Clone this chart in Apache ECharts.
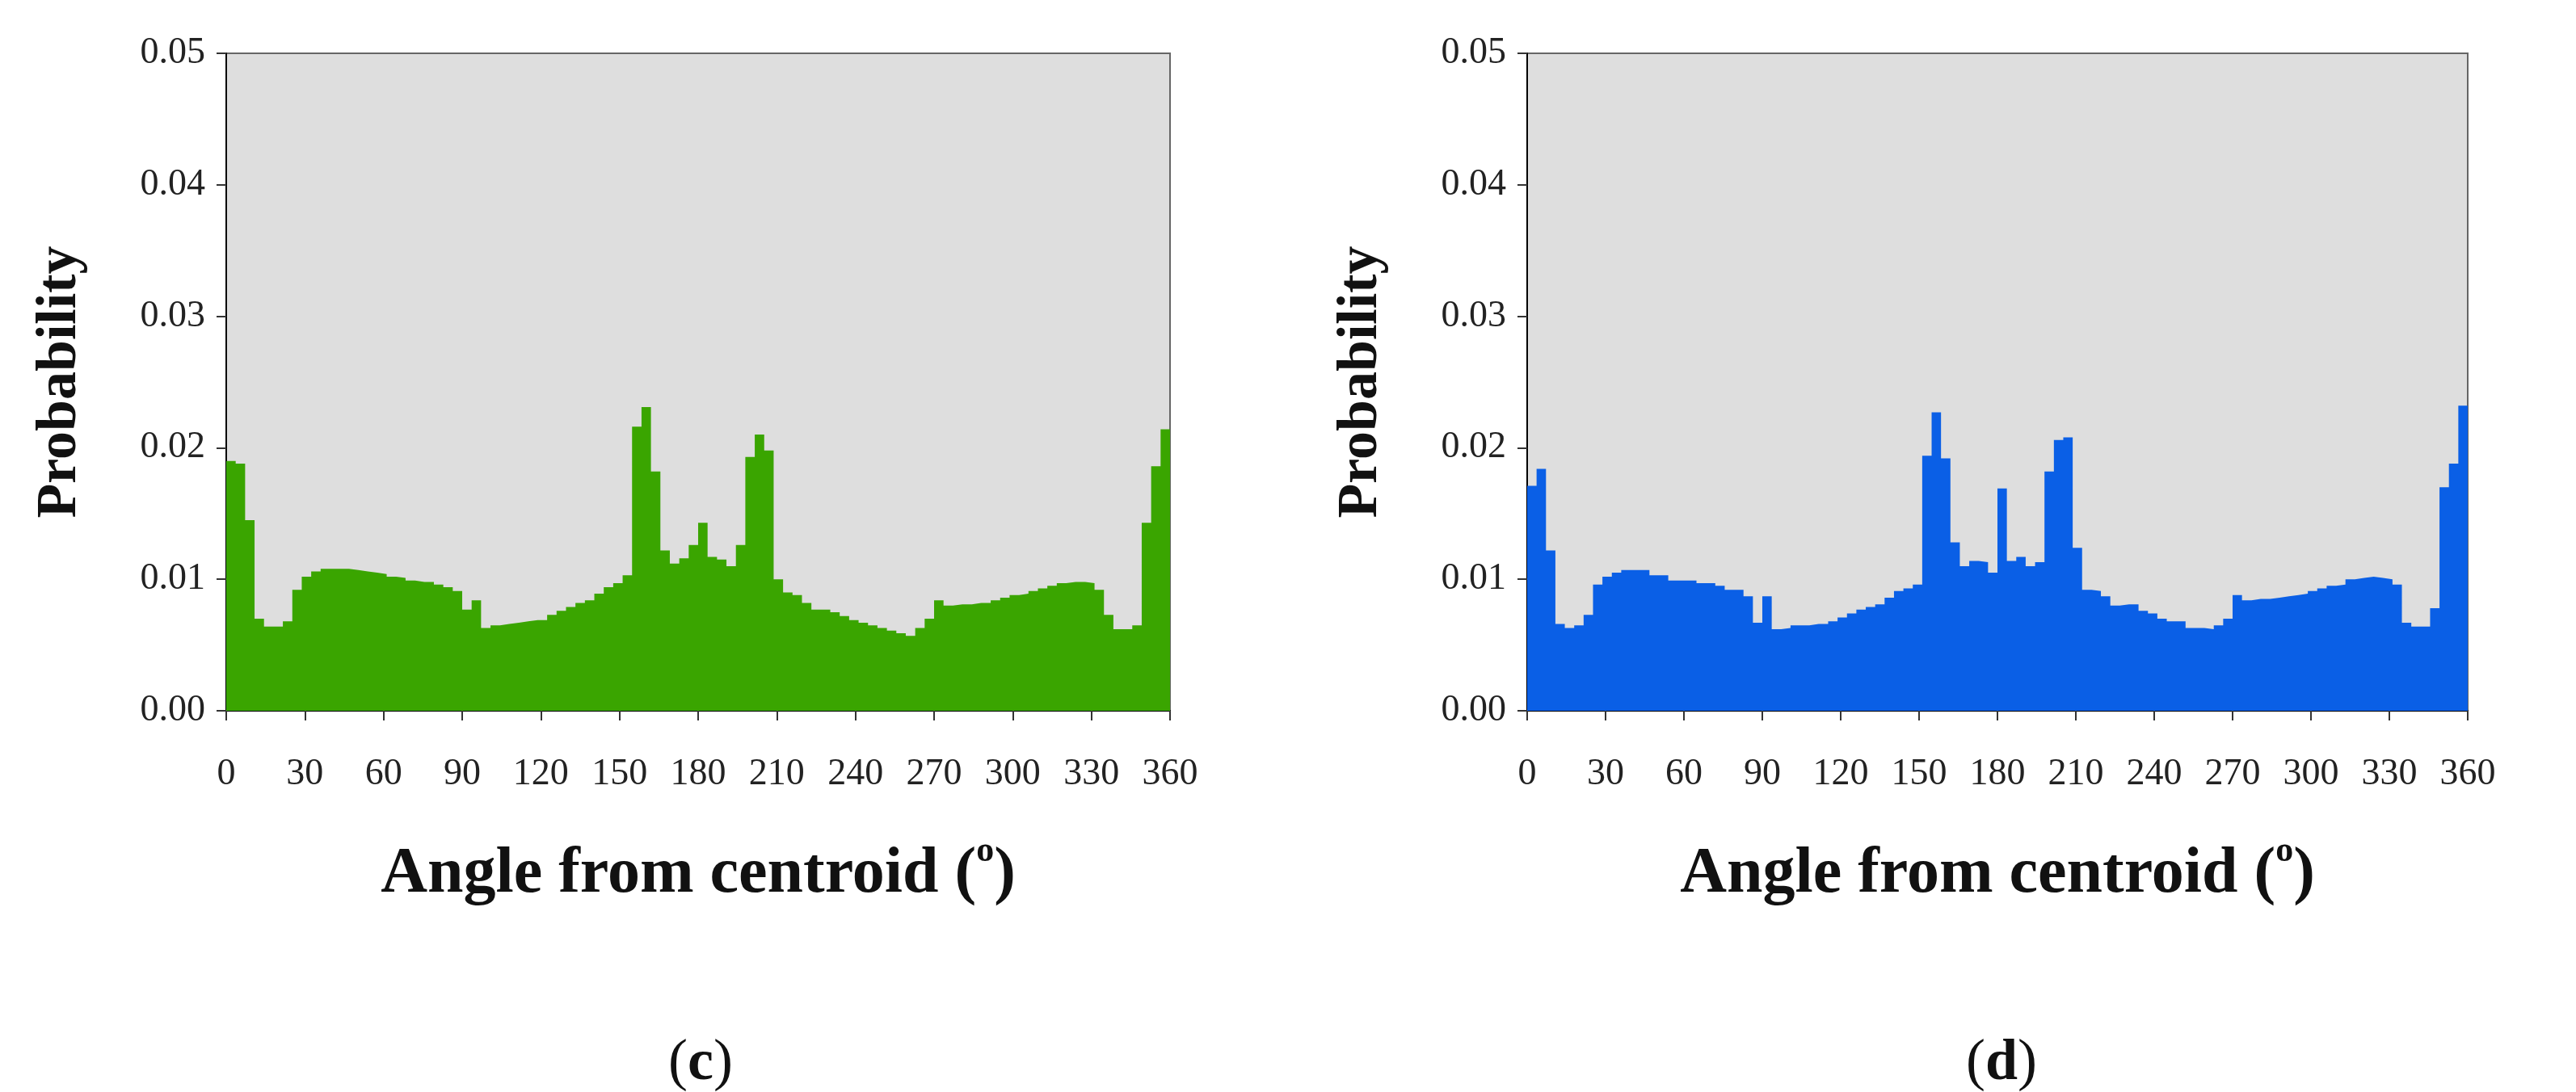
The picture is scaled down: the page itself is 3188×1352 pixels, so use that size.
<!DOCTYPE html>
<html>
<head>
    <script src="https://cdn.jsdelivr.net/npm/echarts@6.0.0/dist/echarts.min.js"></script>
</head>
<body style="margin:0;background:#fff">
    <div id="echartsMain" style="width: 3188px; height: 1352px;"></div>
</body>
</html>

<script type="text/javascript">
    // 100 bins of 3.6 degrees, values in units of 0.001
    const binWidth = 3.6
    const probC = [
        19.0, 18.8, 14.5, 7.0, 6.4, 6.4, 6.8, 9.2, 10.2, 10.6,
        10.8, 10.8, 10.8, 10.7, 10.6, 10.5, 10.4, 10.2, 10.1, 9.9,
        9.8, 9.8, 9.6, 9.4, 9.1, 7.7, 8.4, 6.3, 6.5, 6.6,
        6.7, 6.8, 6.9, 6.9, 7.3, 7.6, 7.9, 8.2, 8.4, 8.9,
        9.4, 9.7, 10.3, 21.6, 23.1, 18.2, 12.2, 11.2, 11.6, 12.6,
        14.3, 11.7, 11.5, 11.0, 12.6, 19.3, 21.0, 19.8, 10.0, 9.0,
        8.8, 8.2, 7.7, 7.7, 7.5, 7.2, 6.9, 6.7, 6.5, 6.3,
        6.1, 5.9, 5.7, 6.3, 7.0, 8.4, 8.0, 8.1, 8.1, 8.2,
        8.2, 8.4, 8.6, 8.8, 8.9, 9.1, 9.3, 9.5, 9.7, 9.8,
        9.8, 9.7, 9.2, 7.3, 6.2, 6.2, 6.5, 14.3, 18.6, 21.4
    ]
    const probD = [
        17.1, 18.4, 12.2, 6.6, 6.3, 6.5, 7.3, 9.6, 10.2, 10.5,
        10.7, 10.7, 10.7, 10.3, 10.3, 9.9, 9.9, 9.9, 9.7, 9.7,
        9.5, 9.2, 9.2, 8.7, 6.7, 8.7, 6.2, 6.3, 6.5, 6.5,
        6.6, 6.6, 6.8, 7.1, 7.4, 7.7, 7.9, 8.1, 8.6, 9.1,
        9.3, 9.6, 19.4, 22.7, 19.2, 12.8, 11.0, 11.4, 11.3, 10.5,
        16.9, 11.4, 11.7, 11.0, 11.3, 18.2, 20.6, 20.8, 12.4, 9.2,
        9.1, 8.7, 8.0, 8.1, 8.1, 7.6, 7.4, 7.0, 6.8, 6.8,
        6.3, 6.3, 6.2, 6.5, 7.0, 8.8, 8.4, 8.5, 8.5, 8.6,
        8.7, 8.8, 8.9, 9.1, 9.3, 9.5, 9.6, 10.0, 10.1, 10.2,
        10.1, 10.0, 9.6, 6.7, 6.4, 6.4, 7.8, 17.0, 18.8, 23.2
    ]
    const xTicks = [0, 30, 60, 90, 120, 150, 180, 210, 240, 270, 300, 330, 360]
    const yTicks = [0.00, 0.01, 0.02, 0.03, 0.04, 0.05]

    function steps(vals) {
        let pts = vals.map((v, i) => [+(i * binWidth).toFixed(1), v / 1000])
        pts.push([360, vals[vals.length - 1] / 1000])
        return pts
    }

    const serifFont = 'Liberation Serif'
    const grids = [
        { left: 280, width: 1168, top: 66, height: 814 },
        { left: 1890, width: 1164, top: 66, height: 814 }
    ]

    function xAxisFor(i) {
        return {
            gridIndex: i, type: 'value', min: 0, max: 360, interval: 30,
            axisLine: { show: true, lineStyle: { color: '#000', width: 2 } },
            axisTick: { show: true, length: 12, lineStyle: { color: '#333', width: 2 } },
            splitLine: { show: false },
            axisLabel: { fontFamily: serifFont, fontSize: 46, color: '#222', margin: 44,
                formatter: v => xTicks.includes(v) ? String(v) : '' },
            name: '{t|Angle from centroid (}{s|o}{t|)}',
            nameLocation: 'middle', nameGap: 140,
            nameTextStyle: { rich: {
                t: { fontFamily: serifFont, fontWeight: 'bold', fontSize: 80, color: '#111' },
                s: { fontFamily: serifFont, fontWeight: 'bold', fontSize: 44, color: '#111', verticalAlign: 'top', padding: [0, 0, 40, 0] }
            } }
        }
    }

    function yAxisFor(i) {
        return {
            gridIndex: i, type: 'value', min: 0, max: 0.05, interval: 0.01,
            axisLine: { show: true, lineStyle: { color: '#000', width: 2 } },
            axisTick: { show: true, length: 12, lineStyle: { color: '#333', width: 2 } },
            splitLine: { show: false },
            axisLabel: { fontFamily: serifFont, fontSize: 46, color: '#222', margin: 26,
                formatter: v => yTicks.some(t => Math.abs(t - v) < 1e-9) ? v.toFixed(2) : '' },
            name: 'Probability', nameLocation: 'middle', nameGap: 150, nameRotate: 90,
            nameTextStyle: { fontFamily: serifFont, fontWeight: 'bold', fontSize: 70, color: '#111' }
        }
    }

    function seriesFor(i, vals, color) {
        return {
            type: 'line', xAxisIndex: i, yAxisIndex: i, step: 'end', showSymbol: false,
            data: steps(vals), lineStyle: { width: 0, color: color },
            areaStyle: { color: color, opacity: 1 }
        }
    }

    const panelLabel = (txt, x) => ({
        text: '({b|' + txt + '})', left: x, top: 1255, textAlign: 'center',
        textStyle: { fontFamily: serifFont, fontSize: 72, fontWeight: 'normal', color: '#111',
            rich: { b: { fontFamily: serifFont, fontSize: 72, fontWeight: 'bold', color: '#111' } } }
    })

    let myChart = echarts.init(document.getElementById('echartsMain'))
    myChart.setOption({
        animation: false,
        grid: grids.map(g => Object.assign({ show: true, backgroundColor: '#dedede', borderColor: '#666', borderWidth: 2 }, g)),
        xAxis: [xAxisFor(0), xAxisFor(1)],
        yAxis: [yAxisFor(0), yAxisFor(1)],
        series: [seriesFor(0, probC, '#3aa500'), seriesFor(1, probD, '#0a5fe6')],
        title: [panelLabel('c', 862), panelLabel('d', 2472)]
    })
</script>
